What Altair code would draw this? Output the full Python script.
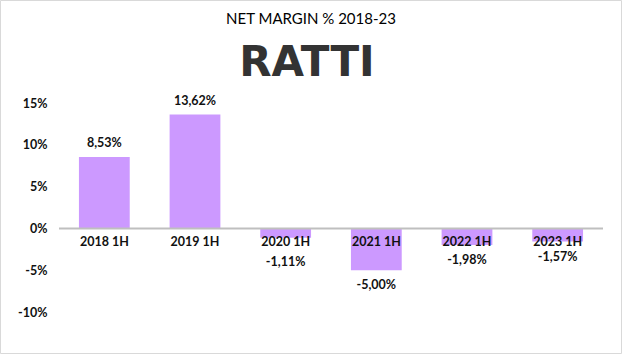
import altair as alt
import pandas as pd

categories = ["2018 1H", "2019 1H", "2020 1H", "2021 1H", "2022 1H", "2023 1H"]
values = [8.53, 13.62, -1.11, -5.00, -1.98, -1.57]
y_ticks = [-10, -5, 0, 5, 10, 15]

df = pd.DataFrame({"cat": categories, "v": values})
df["lbl"] = [f"{v:.2f}%".replace(".", ",") for v in values]

W, H = 544, 209
PL, PT, PR, PB = 59, 103, 19, 42
FONT = "Lato"

x = alt.X("cat:N", sort=categories, axis=None,
          scale=alt.Scale(paddingInner=0.44, paddingOuter=0.22))
yscale = alt.Scale(domain=[-10, 15], nice=False, zero=False)

base = alt.Chart(df)

bars = base.mark_bar(color="#CC99FF").encode(
    x=x,
    y=alt.Y("v:Q", scale=yscale,
            axis=alt.Axis(values=y_ticks, labelExpr="datum.value + '%'", title=None,
                          domain=False, ticks=False, grid=False, labelPadding=12,
                          labelFont=FONT, labelFontSize=12.5, labelFontWeight="bold",
                          labelColor="#111111")),
    y2=alt.datum(0),
)

zero = alt.Chart(pd.DataFrame({"z": [0]})).mark_rule(color="#bfbfbf", strokeWidth=2).encode(
    y=alt.Y("z:Q", scale=yscale), x=alt.value(0), x2=alt.value(W)
)

cat_lbl = base.mark_text(font=FONT, fontSize=12.5, fontWeight="bold", color="#111111", dy=14).encode(
    x=x, y=alt.datum(0, scale=yscale), text="cat:N"
)

pos_lbl = base.transform_filter("datum.v >= 0").mark_text(
    font=FONT, fontSize=12.5, fontWeight="bold", color="#111111", dy=-14).encode(
    x=x, y=alt.Y("v:Q", scale=yscale), text="lbl:N")

neg_lbl = base.transform_filter("datum.v < 0 && datum.cat != '2020 1H'").mark_text(
    font=FONT, fontSize=12.5, fontWeight="bold", color="#111111", dy=15).encode(
    x=x, y=alt.Y("v:Q", scale=yscale), text="lbl:N")

neg_lbl2 = base.transform_filter("datum.cat == '2020 1H'").mark_text(
    font=FONT, fontSize=12.5, fontWeight="bold", color="#111111", dy=24).encode(
    x=x, y=alt.Y("v:Q", scale=yscale), text="lbl:N")

title = alt.Chart(pd.DataFrame({"t": ["NET MARGIN % 2018-23"]})).mark_text(
    font=FONT, fontSize=15, color="#000000").encode(
    x=alt.value(252), y=alt.value(-84), text="t:N")

logo = alt.Chart(pd.DataFrame({"t": ["RATTI"]})).mark_text(
    font="DejaVu Sans", fontSize=42, fontWeight="bold", color="#333333").encode(
    x=alt.value(248), y=alt.value(-40), text="t:N")

border = alt.Chart(pd.DataFrame({"t": [0]})).mark_rect(
    fill=None, stroke="#d9d9d9", strokeWidth=1).encode(
    x=alt.value(-PL + 0.5), x2=alt.value(W + PR - 0.5),
    y=alt.value(-PT + 0.5), y2=alt.value(H + PB - 0.5))

chart = alt.layer(border, bars, zero, cat_lbl, pos_lbl, neg_lbl, neg_lbl2, title, logo).properties(
    width=W, height=H,
    padding={"left": PL, "top": PT, "right": PR, "bottom": PB},
    autosize=alt.AutoSizeParams(type="none"),
    background="white",
).configure_view(stroke=None)

chart.save("out.html", embed_options={"renderer": "svg", "actions": False})
